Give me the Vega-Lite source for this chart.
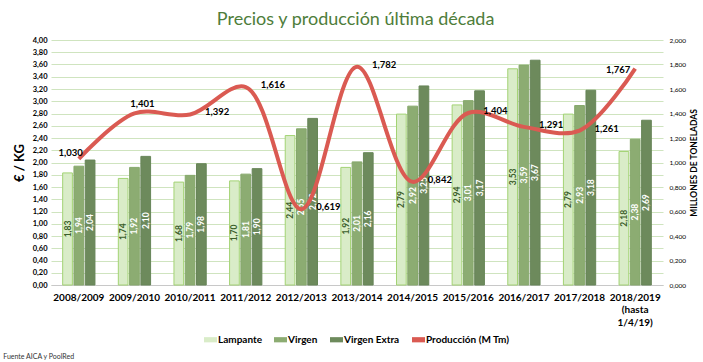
{
  "$schema": "https://vega.github.io/schema/vega-lite/v6.json",
  "padding": {"left": 3, "top": 11, "right": 5, "bottom": 2},
  "title": {"text": "Fuente AICA y PoolRed", "orient": "bottom", "anchor": "start", "frame": "bounds", "fontSize": 7, "fontWeight": "normal", "font": "Lato", "color": "#333333", "dx": -10, "offset": 8},
  "datasets": {
    "precios": [
      {"campana": "2008/2009", "tipo": "Lampante", "precio": 1.83},
      {"campana": "2008/2009", "tipo": "Virgen", "precio": 1.94},
      {"campana": "2008/2009", "tipo": "Virgen Extra", "precio": 2.04},
      {"campana": "2009/2010", "tipo": "Lampante", "precio": 1.74},
      {"campana": "2009/2010", "tipo": "Virgen", "precio": 1.92},
      {"campana": "2009/2010", "tipo": "Virgen Extra", "precio": 2.10},
      {"campana": "2010/2011", "tipo": "Lampante", "precio": 1.68},
      {"campana": "2010/2011", "tipo": "Virgen", "precio": 1.79},
      {"campana": "2010/2011", "tipo": "Virgen Extra", "precio": 1.98},
      {"campana": "2011/2012", "tipo": "Lampante", "precio": 1.70},
      {"campana": "2011/2012", "tipo": "Virgen", "precio": 1.81},
      {"campana": "2011/2012", "tipo": "Virgen Extra", "precio": 1.90},
      {"campana": "2012/2013", "tipo": "Lampante", "precio": 2.44},
      {"campana": "2012/2013", "tipo": "Virgen", "precio": 2.55},
      {"campana": "2012/2013", "tipo": "Virgen Extra", "precio": 2.72},
      {"campana": "2013/2014", "tipo": "Lampante", "precio": 1.92},
      {"campana": "2013/2014", "tipo": "Virgen", "precio": 2.01},
      {"campana": "2013/2014", "tipo": "Virgen Extra", "precio": 2.16},
      {"campana": "2014/2015", "tipo": "Lampante", "precio": 2.79},
      {"campana": "2014/2015", "tipo": "Virgen", "precio": 2.92},
      {"campana": "2014/2015", "tipo": "Virgen Extra", "precio": 3.25},
      {"campana": "2015/2016", "tipo": "Lampante", "precio": 2.94},
      {"campana": "2015/2016", "tipo": "Virgen", "precio": 3.01},
      {"campana": "2015/2016", "tipo": "Virgen Extra", "precio": 3.17},
      {"campana": "2016/2017", "tipo": "Lampante", "precio": 3.53},
      {"campana": "2016/2017", "tipo": "Virgen", "precio": 3.59},
      {"campana": "2016/2017", "tipo": "Virgen Extra", "precio": 3.67},
      {"campana": "2017/2018", "tipo": "Lampante", "precio": 2.79},
      {"campana": "2017/2018", "tipo": "Virgen", "precio": 2.93},
      {"campana": "2017/2018", "tipo": "Virgen Extra", "precio": 3.18},
      {"campana": "2018/2019", "tipo": "Lampante", "precio": 2.18},
      {"campana": "2018/2019", "tipo": "Virgen", "precio": 2.38},
      {"campana": "2018/2019", "tipo": "Virgen Extra", "precio": 2.69}
    ],
    "produccion": [
      {"campana": "2008/2009", "produccion": 1.030},
      {"campana": "2009/2010", "produccion": 1.401},
      {"campana": "2010/2011", "produccion": 1.392},
      {"campana": "2011/2012", "produccion": 1.616},
      {"campana": "2012/2013", "produccion": 0.619},
      {"campana": "2013/2014", "produccion": 1.782},
      {"campana": "2014/2015", "produccion": 0.842},
      {"campana": "2015/2016", "produccion": 1.404},
      {"campana": "2016/2017", "produccion": 1.291},
      {"campana": "2017/2018", "produccion": 1.261},
      {"campana": "2018/2019", "produccion": 1.767}
    ]
  },
  "config": {
    "locale": {"number": {"decimal": ",", "thousands": ".", "grouping": [3], "currency": ["", " €"]}},
    "font": "Lato",
    "view": {"stroke": null},
    "axis": {"labelFont": "Lato", "titleFont": "Lato", "labelColor": "#000000", "titleColor": "#000000", "ticks": false},
    "legend": {
      "orient": "bottom", "direction": "horizontal", "title": null,
      "layout": {"bottom": {"anchor": "middle"}},
      "labelFont": "Lato", "labelFontWeight": "bold", "labelFontSize": 10, "labelColor": "#000000",
      "symbolType": "M-1,-0.4H1V0.4H-1Z", "symbolSize": 169, "symbolStrokeWidth": 0,
      "columnPadding": 12, "labelOffset": 1, "offset": 6
    }
  },
  "vconcat": [
    {
      "width": 612,
      "height": 245,
      "title": {"text": "Precios y producción última década", "fontSize": 18, "font": "Lato", "fontWeight": "normal", "color": "#4e7d3a", "anchor": "middle", "frame": "bounds", "offset": 7},
      "encoding": {
        "x": {
          "field": "campana", "type": "nominal", "sort": null,
          "scale": {"paddingInner": 0.42, "paddingOuter": 0.21},
          "axis": {
            "title": null, "labelAngle": 0, "labelFontWeight": "bold", "labelFontSize": 10,
            "labelPadding": 7, "domainColor": "#c8c8c8", "grid": false, "labelLineHeight": 12.5,
            "labelExpr": "datum.value == '2018/2019' ? ['2018/2019', '(hasta', '1/4/19)'] : datum.label"
          }
        }
      },
      "layer": [
        {
          "data": {"name": "precios"},
          "mark": {"type": "bar", "strokeWidth": 1},
          "encoding": {
            "xOffset": {"field": "tipo", "type": "nominal", "sort": ["Lampante", "Virgen", "Virgen Extra"], "scale": {"paddingInner": 0.14}},
            "y": {
              "field": "precio", "type": "quantitative",
              "scale": {"domain": [0, 4]},
              "axis": {
                "orient": "left", "title": "€ / KG", "titleFontSize": 13, "titleFontWeight": "bold",
                "titlePadding": 6, "format": ".2f", "labelFontSize": 7.5, "labelFontWeight": "bold",
                "labelPadding": 4, "domain": false, "grid": true, "gridColor": "#cfe4bf", "gridWidth": 1,
                "values": [0, 0.2, 0.4, 0.6, 0.8, 1, 1.2, 1.4, 1.6, 1.8, 2, 2.2, 2.4, 2.6, 2.8, 3, 3.2, 3.4, 3.6, 3.8, 4]
              }
            },
            "color": {
              "field": "tipo", "type": "nominal",
              "scale": {"domain": ["Lampante", "Virgen", "Virgen Extra", "Producción (M Tm)"], "range": ["#d9ecc8", "#8cac72", "#6d8a5c", "#da5a52"]}
            },
            "stroke": {
              "field": "tipo", "type": "nominal", "legend": null,
              "scale": {"domain": ["Lampante", "Virgen", "Virgen Extra"], "range": ["#a3d374", "#86a86c", "#678558"]}
            }
          }
        },
        {
          "data": {"name": "precios"},
          "mark": {"type": "text", "angle": 270, "align": "center", "baseline": "middle", "fontSize": 8.5, "fontWeight": "bold", "font": "Lato"},
          "encoding": {
            "xOffset": {"field": "tipo", "type": "nominal", "sort": ["Lampante", "Virgen", "Virgen Extra"]},
            "y": {"field": "precio", "type": "quantitative", "scale": {"domain": [0, 8]}, "axis": null},
            "text": {"field": "precio", "type": "quantitative", "format": ".2f"},
            "color": {"condition": {"test": "datum.tipo == 'Lampante'", "value": "#3b5e2b"}, "value": "#ffffff"}
          }
        },
        {
          "data": {"name": "produccion"},
          "mark": {"type": "line", "interpolate": "catmull-rom", "strokeWidth": 4},
          "encoding": {
            "y": {
              "field": "produccion", "type": "quantitative",
              "scale": {"domain": [0, 2]},
              "axis": {
                "orient": "right", "title": "MILLONES DE TONELADAS", "titleAngle": 270, "titleBaseline": "top",
                "titleFontSize": 8.5, "titleFontWeight": "bold", "titlePadding": 4, "format": ".3f", "labelFontSize": 6.5,
                "labelPadding": 6, "domain": false, "grid": false,
                "values": [0, 0.2, 0.4, 0.6, 0.8, 1, 1.2, 1.4, 1.6, 1.8, 2]
              }
            },
            "color": {"datum": "Producción (M Tm)"}
          }
        },
        {
          "data": {"name": "produccion"},
          "transform": [{"filter": "datum.campana != '2008/2009' && datum.campana != '2009/2010' && datum.campana != '2018/2019'"}],
          "mark": {"type": "text", "align": "left", "baseline": "middle", "dx": 15, "dy": -2, "fontSize": 9.5, "fontWeight": "bold", "font": "Lato", "color": "#000000"},
          "encoding": {
            "y": {"field": "produccion", "type": "quantitative", "scale": {"domain": [0, 2]}, "axis": null},
            "text": {"field": "produccion", "type": "quantitative", "format": ".3f"}
          }
        },
        {
          "data": {"name": "produccion"},
          "transform": [{"filter": "datum.campana == '2008/2009'"}],
          "mark": {"type": "text", "align": "right", "baseline": "middle", "dx": 4, "dy": -6, "fontSize": 9.5, "fontWeight": "bold", "font": "Lato", "color": "#000000"},
          "encoding": {
            "y": {"field": "produccion", "type": "quantitative", "scale": {"domain": [0, 2]}, "axis": null},
            "text": {"field": "produccion", "type": "quantitative", "format": ".3f"}
          }
        },
        {
          "data": {"name": "produccion"},
          "transform": [{"filter": "datum.campana == '2009/2010'"}],
          "mark": {"type": "text", "align": "center", "baseline": "middle", "dx": 8, "dy": -9, "fontSize": 9.5, "fontWeight": "bold", "font": "Lato", "color": "#000000"},
          "encoding": {
            "y": {"field": "produccion", "type": "quantitative", "scale": {"domain": [0, 2]}, "axis": null},
            "text": {"field": "produccion", "type": "quantitative", "format": ".3f"}
          }
        },
        {
          "data": {"name": "produccion"},
          "transform": [{"filter": "datum.campana == '2018/2019'"}],
          "mark": {"type": "text", "align": "right", "baseline": "middle", "dx": -5, "dy": 1, "fontSize": 9.5, "fontWeight": "bold", "font": "Lato", "color": "#000000"},
          "encoding": {
            "y": {"field": "produccion", "type": "quantitative", "scale": {"domain": [0, 2]}, "axis": null},
            "text": {"field": "produccion", "type": "quantitative", "format": ".3f"}
          }
        }
      ],
      "resolve": {"scale": {"y": "independent"}}
    }
  ]
}
